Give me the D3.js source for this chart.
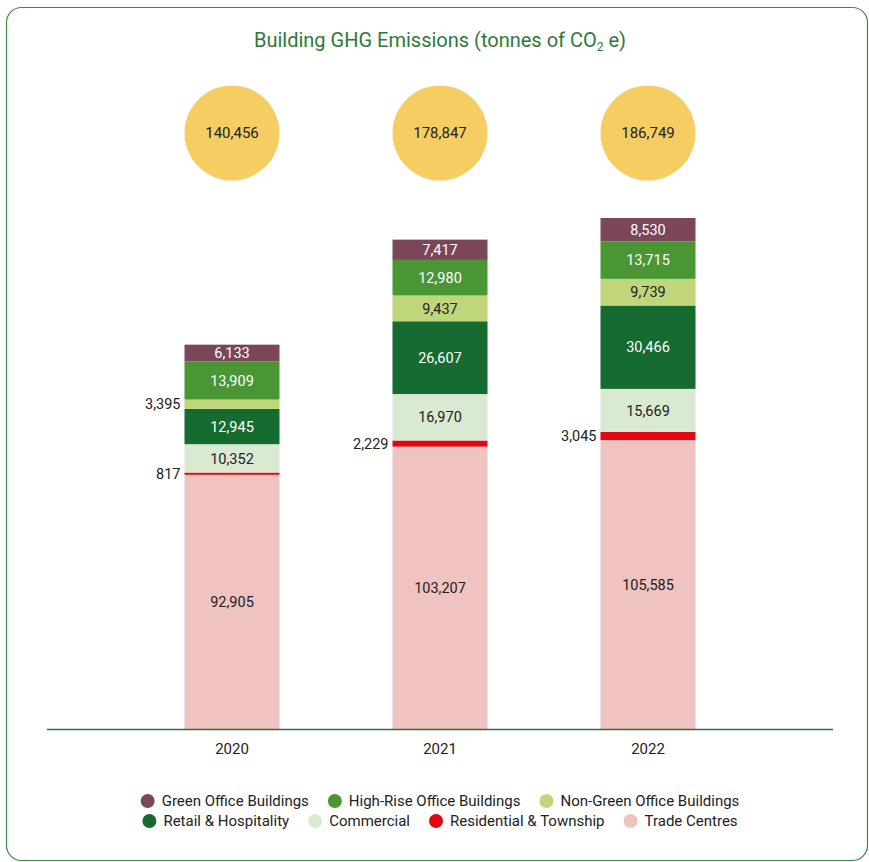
<!DOCTYPE html>
<html>
<head>
<meta charset="utf-8">
<script src="https://cdn.jsdelivr.net/npm/d3@7"></script>
<style>
  body { margin: 0; background: #fff; }
  svg { display: block; font-family: "Roboto", "Noto Sans", sans-serif; }
</style>
</head>
<body>
<svg id="chart" width="869" height="862"></svg>
<script>
(function () {
'use strict';

var years = ['2020', '2021', '2022'];
var categories = ['Trade Centres', 'Residential & Township', 'Commercial', 'Retail & Hospitality',
    'Non-Green Office Buildings', 'High-Rise Office Buildings', 'Green Office Buildings'];
var tradeCentres = [92905, 103207, 105585];
var residential = [817, 2229, 3045];
var commercial = [10352, 16970, 15669];
var retail = [12945, 26607, 30466];
var nonGreen = [3395, 9437, 9739];
var highRise = [13909, 12980, 13715];
var greenOffice = [6133, 7417, 8530];
var legendOrder = ['Green Office Buildings', 'High-Rise Office Buildings', 'Non-Green Office Buildings',
    'Retail & Hospitality', 'Commercial', 'Residential & Township', 'Trade Centres'];

var colors = {
    'Trade Centres': '#efc3c0',
    'Residential & Township': '#e30613',
    'Commercial': '#d9e9d2',
    'Retail & Hospitality': '#156b30',
    'Non-Green Office Buildings': '#bfd67a',
    'High-Rise Office Buildings': '#4a9635',
    'Green Office Buildings': '#7b4658'
};
var lightText = { 'Retail & Hospitality': 1, 'High-Rise Office Buildings': 1, 'Green Office Buildings': 1 };

var series = [tradeCentres, residential, commercial, retail, nonGreen, highRise, greenOffice];
var rows = years.map(function (y, i) {
    var r = { year: y };
    categories.forEach(function (c, j) { r[c] = series[j][i]; });
    return r;
});
var totals = rows.map(function (r) { return d3.sum(categories, function (c) { return r[c]; }); });

var svg = d3.select('#chart');
var fmt = d3.format(',');
var green = '#2c7a3b';

svg.append('rect')
    .attr('x', 6.5).attr('y', 7.5)
    .attr('width', 861).attr('height', 853)
    .attr('rx', 15)
    .attr('fill', 'none')
    .attr('stroke', '#3a8a45')
    .attr('stroke-width', 1.2);

var title = svg.append('text')
    .attr('x', 440).attr('y', 47)
    .attr('text-anchor', 'middle')
    .attr('fill', green)
    .style('font-size', '20px');
title.append('tspan').text('Building GHG Emissions (tonnes of CO');
title.append('tspan').attr('dy', 4).style('font-size', '12px').text('2');
title.append('tspan').attr('dy', -4).text(' e)');

var x = d3.scalePoint().domain(years).range([232, 648]);
var barW = 95;
var y = d3.scaleLinear().domain([0, d3.max(totals)]).range([729, 218]);

var stack = d3.stack().keys(categories)(rows);

var layers = svg.append('g').selectAll('g.layer')
    .data(stack)
    .join('g')
    .attr('class', 'layer')
    .attr('fill', function (d) { return colors[d.key]; });

layers.selectAll('rect')
    .data(function (d) { return d; })
    .join('rect')
    .attr('x', function (d) { return x(d.data.year) - barW / 2; })
    .attr('y', function (d) { return y(d[1]); })
    .attr('width', barW)
    .attr('height', function (d) { return y(d[0]) - y(d[1]); });

layers.each(function (layer) {
    d3.select(this).selectAll('text')
        .data(layer)
        .join('text')
        .each(function (d) {
            var h = y(d[0]) - y(d[1]);
            var cy = (y(d[0]) + y(d[1])) / 2;
            var t = d3.select(this)
                .attr('y', cy)
                .attr('dy', '0.36em')
                .style('font-size', '14.5px')
                .text(fmt(d[1] - d[0]));
            if (h < 14) {
                t.attr('x', x(d.data.year) - barW / 2 - 4)
                    .attr('text-anchor', 'end')
                    .attr('fill', '#222');
            } else {
                t.attr('x', x(d.data.year))
                    .attr('text-anchor', 'middle')
                    .attr('fill', lightText[layer.key] ? '#fff' : '#222');
            }
        });
});

// totals in circles
var bubbles = svg.append('g').selectAll('g')
    .data(years)
    .join('g')
    .attr('transform', function (d) { return 'translate(' + x(d) + ',133)'; });
bubbles.append('circle').attr('r', 47.5).attr('fill', '#f5cd62');
bubbles.append('text')
    .attr('text-anchor', 'middle')
    .attr('dy', '0.36em')
    .attr('fill', '#222')
    .style('font-size', '15px')
    .text(function (d, i) { return fmt(totals[i]); });

// baseline + year labels
svg.append('line')
    .attr('x1', 47).attr('x2', 833)
    .attr('y1', y(0) + 0.5).attr('y2', y(0) + 0.5)
    .attr('stroke', '#2f6e3c')
    .attr('stroke-width', 1.4);

svg.append('g').selectAll('text')
    .data(years)
    .join('text')
    .attr('x', function (d) { return x(d); })
    .attr('y', 754)
    .attr('text-anchor', 'middle')
    .attr('fill', '#222')
    .style('font-size', '15px')
    .text(function (d) { return d; });

// legend, two centred rows
function drawLegendRow(items, cy) {
    var g = svg.append('g');
    var offset = 0;
    items.forEach(function (name, i) {
        var item = g.append('g').attr('transform', 'translate(' + offset + ',0)');
        item.append('circle').attr('cx', 7).attr('cy', 0).attr('r', 7).attr('fill', colors[name]);
        var t = item.append('text')
            .attr('x', 21).attr('dy', '0.35em')
            .attr('fill', '#222')
            .style('font-size', '15px')
            .text(name);
        offset += 21 + t.node().getComputedTextLength() + 19;
    });
    var total = offset - 19;
    g.attr('transform', 'translate(' + (440 - total / 2) + ',' + cy + ')');
}
drawLegendRow(legendOrder.slice(0, 3), 801);
drawLegendRow(legendOrder.slice(3), 821);

})();
</script>
</body>
</html>
